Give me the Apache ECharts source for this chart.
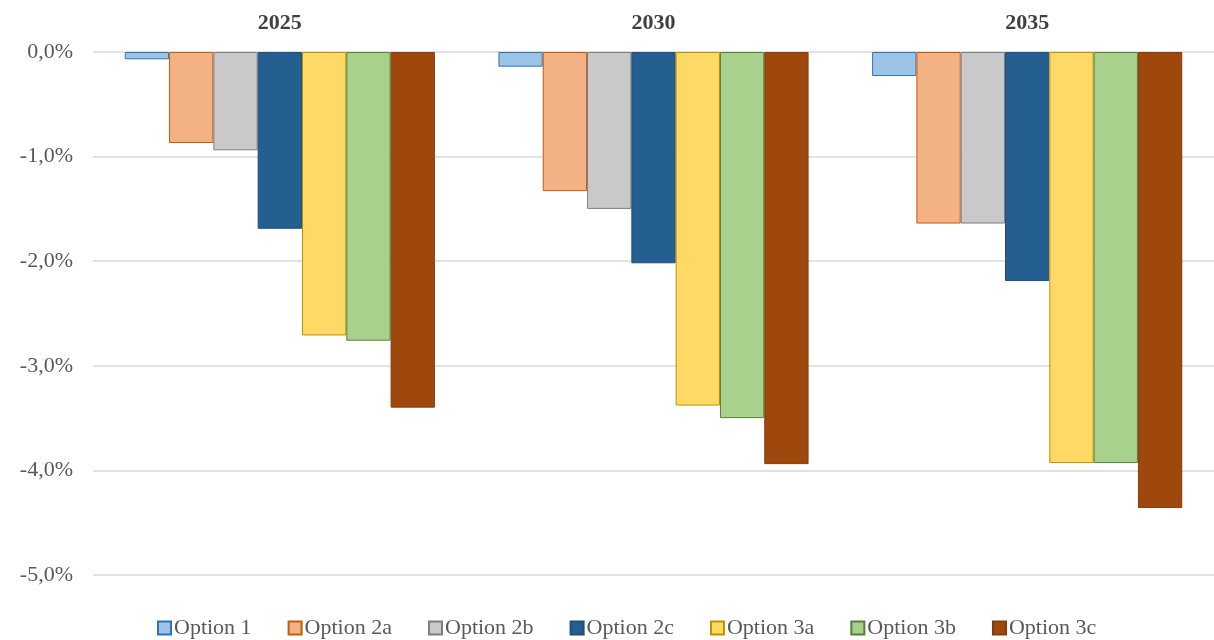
<!DOCTYPE html>
<html>
<head>
<meta charset="utf-8">
<script src="https://cdn.jsdelivr.net/npm/echarts@6/dist/echarts.min.js"></script>
<style>
  html, body { margin: 0; padding: 0; background: #ffffff; }
  #chart { width: 1214px; height: 640px; }
</style>
</head>
<body>
<div id="chart"></div>
<script>
// Years shown along the top
const years = ['2025', '2030', '2035'];

// Change in percent for each option and year
const option1  = [-0.07, -0.14, -0.23];
const option2a = [-0.87, -1.33, -1.64];
const option2b = [-0.94, -1.50, -1.64];
const option2c = [-1.69, -2.02, -2.19];
const option3a = [-2.71, -3.38, -3.93];
const option3b = [-2.76, -3.50, -3.93];
const option3c = [-3.40, -3.94, -4.36];

const seriesNames = ['Option 1', 'Option 2a', 'Option 2b', 'Option 2c', 'Option 3a', 'Option 3b', 'Option 3c'];
const seriesValues = [option1, option2a, option2b, option2c, option3a, option3b, option3c];

const fills   = ['#9DC3E6', '#F4B183', '#C9C9C9', '#255E91', '#FFD966', '#A9D18E', '#9E480E'];
const borders = ['#2E75B6', '#C55A11', '#7F7F7F', '#1F4E79', '#BF9000', '#548235', '#843C0C'];

const fmt = v => v.toFixed(1).replace('.', ',') + '%';

const chart = echarts.init(document.getElementById('chart'), null, { renderer: 'canvas' });

chart.setOption({
  backgroundColor: '#ffffff',
  animation: false,
  textStyle: { fontFamily: 'Liberation Serif' },
  grid: { left: 93, right: 0, top: 52, bottom: 65, containLabel: false },
  legend: {
    top: 612,
    left: 152,
    itemWidth: 13,
    itemHeight: 13,
    itemGap: 36,
    icon: 'rect',
    textStyle: { fontFamily: 'Liberation Serif', fontSize: 22, color: '#595959', padding: [0, 0, 0, -2] },
    data: seriesNames
  },
  xAxis: {
    type: 'category',
    position: 'top',
    data: years,
    axisLine: { show: false },
    axisTick: { show: false },
    axisLabel: { fontFamily: 'Liberation Serif', fontWeight: 'bold', fontSize: 22, color: '#404040', margin: 18 }
  },
  yAxis: {
    type: 'value',
    min: -5,
    max: 0,
    interval: 1,
    axisLine: { show: false },
    axisTick: { show: false },
    splitLine: { lineStyle: { color: '#D9D9D9', width: 1.5 } },
    axisLabel: { formatter: fmt, fontFamily: 'Liberation Serif', fontSize: 22, color: '#595959', margin: 20 }
  },
  series: seriesNames.map((name, i) => ({
    name: name,
    type: 'bar',
    data: seriesValues[i],
    barGap: '0%',
    barCategoryGap: '17%',
    itemStyle: { color: fills[i], borderColor: borders[i], borderWidth: 1 }
  }))
});
</script>
</body>
</html>
